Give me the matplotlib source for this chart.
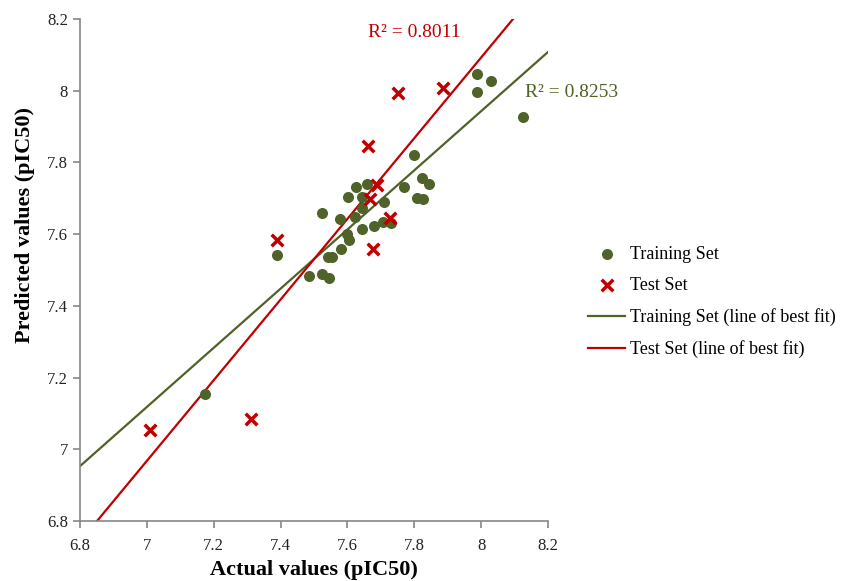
import numpy as np
import matplotlib
matplotlib.use("Agg")
import matplotlib.pyplot as plt

plt.rcParams['font.family'] = ['Liberation Serif', 'DejaVu Serif']

# training set (actual, predicted)
train_actual = [7.174, 7.389, 7.485, 7.523, 7.546, 7.541, 7.553, 7.581, 7.600, 7.606,
                7.643, 7.678, 7.705, 7.730, 7.523, 7.578, 7.623, 7.643, 7.603, 7.626,
                7.659, 7.643, 7.709, 7.768, 7.800, 7.824, 7.844, 7.808, 7.825, 7.989,
                7.989, 8.029, 8.126]
train_pred = [7.154, 7.542, 7.483, 7.488, 7.477, 7.537, 7.537, 7.558, 7.600, 7.584,
              7.613, 7.623, 7.633, 7.631, 7.659, 7.641, 7.649, 7.672, 7.703, 7.732,
              7.740, 7.703, 7.690, 7.731, 7.820, 7.757, 7.740, 7.700, 7.697, 8.046,
              7.996, 8.026, 7.928]

# test set (actual, predicted)
test_actual = [7.009, 7.311, 7.389, 7.662, 7.750, 7.885, 7.687, 7.667, 7.727, 7.677]
test_pred = [7.054, 7.085, 7.584, 7.846, 7.994, 8.007, 7.737, 7.697, 7.646, 7.558]

# trendlines as shown (slope, intercept)
train_fit = (0.825, 6.953 - 0.825 * 6.8)
test_fit = (1.125, 6.8 - 1.125 * 6.851)

green = '#4F6228'
red = '#C00000'
axis_grey = '#868686'

fig = plt.figure(figsize=(8.44, 5.81), dpi=100)
ax = fig.add_axes([80 / 844, 60 / 581, 468 / 844, 502 / 581])

ax.scatter(train_actual, train_pred, s=48, color=green, label='Training Set', zorder=3)
ax.scatter(test_actual, test_pred, s=70, marker='x', color=red, linewidths=2.5,
           label='Test Set', zorder=4)

xs = np.array([6.8, 8.2])
ax.plot(xs, train_fit[0] * xs + train_fit[1], color=green, lw=1.6,
        label='Training Set (line of best fit)', zorder=2)
ax.plot(xs, test_fit[0] * xs + test_fit[1], color=red, lw=1.6,
        label='Test Set (line of best fit)', zorder=2)

ax.set_xlim(6.8, 8.2)
ax.set_ylim(6.8, 8.2)
ax.set_xticks(np.arange(6.8, 8.21, 0.2))
ax.set_yticks(np.arange(6.8, 8.21, 0.2))
ax.set_xticklabels(['6.8', '7', '7.2', '7.4', '7.6', '7.8', '8', '8.2'])
ax.set_yticklabels(['6.8', '7', '7.2', '7.4', '7.6', '7.8', '8', '8.2'])

for side in ['top', 'right']:
    ax.spines[side].set_visible(False)
for side in ['left', 'bottom']:
    ax.spines[side].set_color(axis_grey)
    ax.spines[side].set_linewidth(1.2)
ax.tick_params(direction='out', length=5, width=1.2, color=axis_grey,
               labelsize=12, labelcolor='#222222')
ax.tick_params(axis='x', pad=7)

ax.set_xlabel('Actual values (pIC50)', fontsize=16, fontweight='bold')
ax.xaxis.set_label_coords(0.5, -0.078)
ax.set_ylabel('Predicted values (pIC50)', fontsize=16, fontweight='bold')
ax.yaxis.set_label_coords(-0.097, 0.59)

ax.text(7.799, 8.161, 'R² = 0.8011', color=red, fontsize=14, ha='center', va='center')
ax.text(8.269, 7.996, 'R² = 0.8253', color=green, fontsize=14, ha='center', va='center',
        clip_on=False)

ax.legend(loc='center left', bbox_to_anchor=(1.0855, 0.436), frameon=False, fontsize=13,
          borderpad=0, borderaxespad=0, handlelength=2.05, handletextpad=0.3,
          labelspacing=0.78)

fig.savefig('out.png', dpi=100)
